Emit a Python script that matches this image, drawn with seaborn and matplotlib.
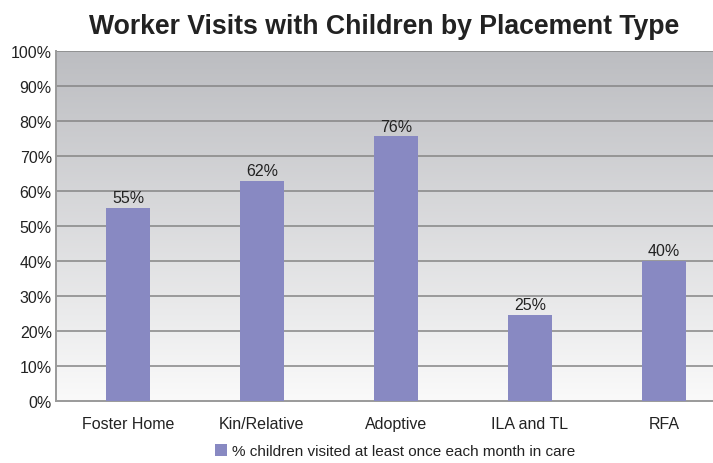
import numpy as np
import pandas as pd
import matplotlib
matplotlib.use("Agg")
import matplotlib.pyplot as plt
import seaborn as sns
from matplotlib.patches import Patch

categories = ["Foster Home", "Kin/Relative", "Adoptive", "ILA and TL", "RFA"]
values = [55.2, 62.8, 75.6, 24.5, 40.0]
bar_labels = ["55%", "62%", "76%", "25%", "40%"]
yticks = [0, 10, 20, 30, 40, 50, 60, 70, 80, 90, 100]
ytick_labels = [f"{t}%" for t in yticks]
title = "Worker Visits with Children by Placement Type"
legend_label = "% children visited at least once each month in care"

sns.set_theme(style="white")
plt.rcParams["font.family"] = ["Liberation Sans", "DejaVu Sans"]

df = pd.DataFrame({"cat": categories, "val": values})
bar_color = "#8889C2"

fig = plt.figure(figsize=(7.13, 4.64), dpi=100)
ax = fig.add_axes([56 / 713, 1 - 402 / 464, (713 - 56) / 713, 350 / 464])

# gradient background
grad = np.linspace(0, 1, 256).reshape(-1, 1)
cmap = matplotlib.colors.LinearSegmentedColormap.from_list("bg", ["#FAFAFA", "#BCBDC1"])
ax.imshow(grad, extent=[0, 1, 0, 1], transform=ax.transAxes, origin="lower",
          aspect="auto", cmap=cmap, zorder=0)

sns.barplot(data=df, x="cat", y="val", color=bar_color, width=0.33,
            saturation=1, linewidth=0, edgecolor="none", ax=ax, zorder=3)

ax.set_xlim(-0.537, 4.366)
ax.set_ylim(0, 100)
ax.set_yticks(yticks)
ax.set_yticklabels(ytick_labels)
for t in yticks[1:]:
    ax.axhline(t, color="#858585", lw=1.1, zorder=1)
ax.set_xlabel("")
ax.set_ylabel("")
ax.tick_params(axis="both", length=0, labelsize=11.5, labelcolor="#222222")
ax.tick_params(axis="x", pad=11)
ax.tick_params(axis="y", pad=3)
for s in ["left", "bottom"]:
    ax.spines[s].set_color("#9A9A9A")
    ax.spines[s].set_linewidth(1.4)
for s in ["top", "right"]:
    ax.spines[s].set_visible(False)

for p, lab in zip(ax.patches, bar_labels):
    ax.annotate(lab, (p.get_x() + p.get_width() / 2, p.get_height()),
                xytext=(0, 2), textcoords="offset points", ha="center", va="bottom",
                fontsize=11.5, color="#222222", zorder=4)

fig.text(384 / 713, 1 - 27 / 464, title, ha="center", va="center",
         fontsize=19.2, fontweight="bold", color="#222222")

handles = [Patch(facecolor=bar_color, edgecolor="none", label=legend_label)]
fig.legend(handles=handles, loc="center", bbox_to_anchor=(395 / 713, 1 - 452 / 464),
           frameon=False, fontsize=11, handlelength=0.8, handleheight=0.8,
           handletextpad=0.3, labelcolor="#222222")

fig.savefig("out.png", dpi=100)
